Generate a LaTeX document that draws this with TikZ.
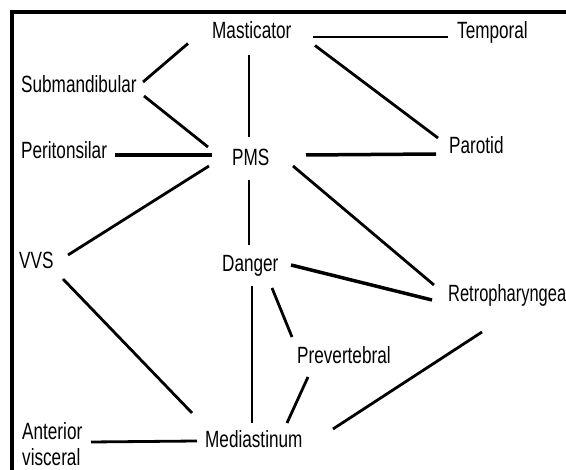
\documentclass[tikz,border=0pt]{standalone}
\usepackage{fontspec}
\setmainfont[FakeStretch=0.73]{Liberation Sans}
\newfontfamily\narrowfont[FakeStretch=0.70]{Liberation Sans}
\begin{document}
\begin{tikzpicture}[x=1pt,y=-1pt,
  lbl/.style={inner sep=0pt, anchor=base west, font=\fontsize{23.5}{26}\selectfont},
  link/.style={line width=2.8pt},
  heavy/.style={line width=3.5pt},
  thinlink/.style={line width=1.5pt}]
\useasboundingbox (0,0) rectangle (566,470);
\fill[white] (0,0) rectangle (566,470);
\draw[line width=3.2pt] (12,490) -- (12,12) -- (590,12);
% labels
\node[lbl] (mast)  at (212,38.5) {Masticator};
\node[lbl] (temp)  at (457,38.5) {Temporal};
\node[lbl] (sub)   at (21,93)  {Submandibular};
\node[lbl] (peri)  at (21,159) {Peritonsilar};
\node[lbl] (pms)   at (232,166) {PMS};
\node[lbl] (par)   at (449,154) {Parotid};
\node[lbl] (vvs)   at (19,269) {VVS};
\node[lbl] (dang)  at (222,272) {Danger};
\node[lbl, font=\fontsize{23.5}{26}\narrowfont] (retro) at (448,302) {Retropharyngeal};
\node[lbl] (prev)  at (297,364) {Prevertebral};
\node[lbl] (med)   at (205,448) {Mediastinum};
\node[lbl] (ant)   at (22,440) {\begin{tabular}[t]{@{}l@{}}Anterior\\visceral\end{tabular}};
% connectors
\draw[link] ([shift={(-24,5)}]mast.base west) -- ([shift={(122,-11)}]sub.base west);
\draw[link] ([shift={(123,3)}]sub.base west) -- ([shift={(-24,-19)}]pms.base west);
\draw[heavy] ([shift={(94,-4)}]peri.base west) -- ([shift={(-20,-11)}]pms.base west);
\draw[thinlink] ([shift={(37,17)}]mast.base west) -- ([shift={(17,-29)}]pms.base west);
\draw[link] ([shift={(-23,0)}]pms.base west) -- ([shift={(49,-14)}]vvs.base west);
\draw[thinlink] ([shift={(17,14)}]pms.base west) -- ([shift={(27,-27)}]dang.base west);
\draw[link] ([shift={(101,-1.5)}]mast.base west) -- ([shift={(-9,-1.5)}]temp.base west);
\draw[link] ([shift={(103,7)}]mast.base west) -- ([shift={(-11,-16)}]par.base west);
\draw[heavy] ([shift={(74,-11)}]pms.base west) -- ([shift={(-13,0)}]par.base west);
\draw[link] ([shift={(61,0)}]pms.base west) -- ([shift={(-14,-17)}]retro.base west);
\draw[heavy] ([shift={(69,-7)}]dang.base west) -- ([shift={(-16,-2)}]retro.base west);
\draw[link] ([shift={(30,14)}]dang.base west) -- ([shift={(47,-25)}]med.base west);
\draw[link] ([shift={(50,16)}]dang.base west) -- ([shift={(-5,-27)}]prev.base west);
\draw[link] ([shift={(11,13)}]prev.base west) -- ([shift={(82,-25)}]med.base west);
\draw[link] ([shift={(128,-19)}]med.base west) -- ([shift={(34,30)}]retro.base west);
\draw[link] ([shift={(44,10)}]vvs.base west) -- ([shift={(-13,-35)}]med.base west);
\draw[link] ([shift={(69,2)}]ant.base west) -- ([shift={(-8,-7)}]med.base west);
\end{tikzpicture}
\end{document}
